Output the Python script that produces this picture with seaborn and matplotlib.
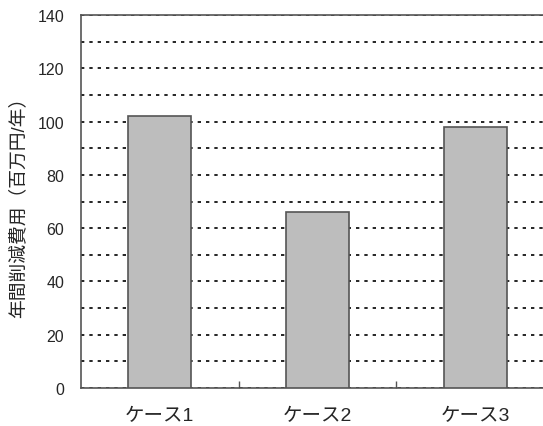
import numpy as np
import matplotlib
matplotlib.use('Agg')
import matplotlib.pyplot as plt
import pandas as pd
import seaborn as sns

# data
cases = ['ケース1', 'ケース2', 'ケース3']
savings = [102, 66, 98]

sns.set_style('white')
plt.rcParams['font.family'] = ['Liberation Sans', 'Noto Sans CJK JP', 'DejaVu Sans']

df = pd.DataFrame({'case': cases, 'value': savings})

fig = plt.figure(figsize=(5.43, 4.27), dpi=100)
ax = fig.add_axes([0.149, 0.089, 0.851, 0.8735])

sns.barplot(data=df, x='case', y='value', ax=ax, width=0.4,
            color='#bdbdbd', edgecolor='#555555', linewidth=1.2,
            saturation=1, zorder=3)

ax.set_xlim(-0.5, 2.43)
ax.set_ylim(0, 140)
ax.set_yticks(np.arange(0, 141, 20))
ax.set_yticks(np.arange(10, 140, 20), minor=True)
ax.grid(axis='y', which='both', color='black', linestyle=(0, (2, 3)),
        linewidth=1.2, zorder=0)
ax.set_axisbelow(True)

ax.set_xticks([0.5, 1.5], minor=True)
ax.tick_params(axis='x', which='major', length=0, pad=14, labelsize=14)
ax.tick_params(axis='x', which='minor', bottom=True, direction='in',
               length=5, width=1, color='#555555')
ax.tick_params(axis='y', which='both', length=0, pad=12, labelsize=11.5)

ax.set_xlabel('')
ax.set_ylabel('年間削減費用（百万円/年）', fontsize=13.5, labelpad=7)

for side in ['left', 'bottom', 'top']:
    ax.spines[side].set_color('#555555')
    ax.spines[side].set_linewidth(1.2)
ax.spines['right'].set_visible(False)

fig.savefig('out.png', dpi=100)
